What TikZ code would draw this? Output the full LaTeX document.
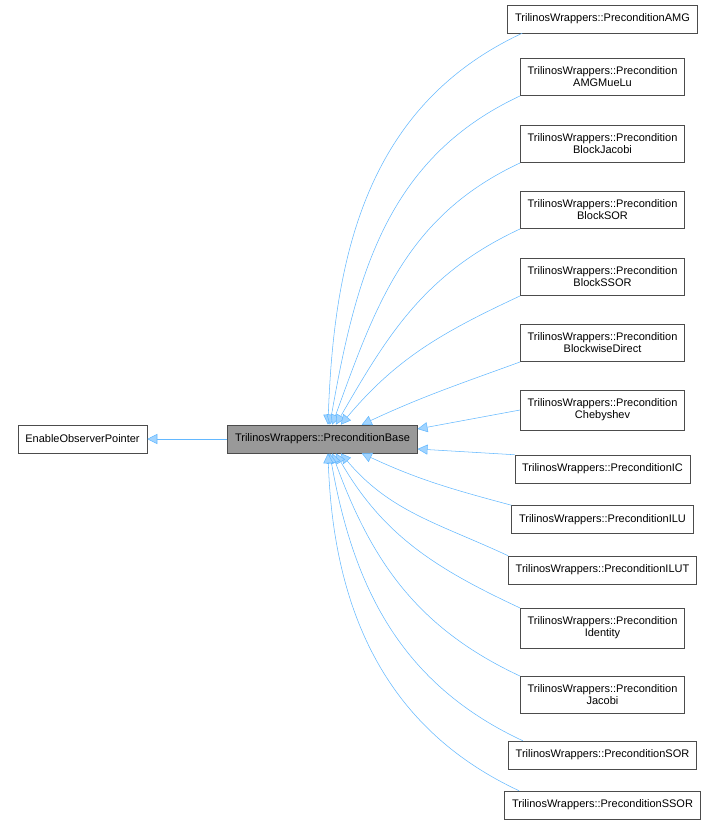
\documentclass[tikz,border=0pt]{standalone}
\usepackage{fontspec}
\setmainfont{Liberation Sans}
\usetikzlibrary{arrows.meta}
\definecolor{edgeblue}{HTML}{63B8FF}
\tikzset{
  cls/.style={draw=black!70, fill=white, inner xsep=5.5pt, inner ysep=6.5pt,
    minimum height=21pt, align=center, font=\fontsize{8.25}{9}\selectfont},
  base/.style={cls, fill=black!40},
  inh/.style={draw=edgeblue, -{Triangle[open, length=7.5pt, width=7.5pt, fill=edgeblue!60]}}
}
\begin{document}
\begin{tikzpicture}[x=0.75pt,y=-0.75pt]
\useasboundingbox (0,0) rectangle (727,824);
\node[base] (pb) at (322.5,439) {TrilinosWrappers::PreconditionBase};
\node[cls] (eop) at (82.5,439) {EnableObserverPointer};
\node[cls] (amg) at (602.5,19) {TrilinosWrappers::PreconditionAMG};
\node[cls] (mue) at (602.5,77) {TrilinosWrappers::Precondition\\AMGMueLu};
\node[cls] (bjac) at (602.5,144) {TrilinosWrappers::Precondition\\BlockJacobi};
\node[cls] (bsor) at (602.5,210) {TrilinosWrappers::Precondition\\BlockSOR};
\node[cls] (bssor) at (602.5,277) {TrilinosWrappers::Precondition\\BlockSSOR};
\node[cls] (bwd) at (602.5,343) {TrilinosWrappers::Precondition\\BlockwiseDirect};
\node[cls] (cheb) at (602.5,410) {TrilinosWrappers::Precondition\\Chebyshev};
\node[cls] (ic) at (602.5,469) {TrilinosWrappers::PreconditionIC};
\node[cls] (ilu) at (602.5,519.5) {TrilinosWrappers::PreconditionILU};
\node[cls] (ilut) at (602.5,570) {TrilinosWrappers::PreconditionILUT};
\node[cls] (ident) at (602.5,628) {TrilinosWrappers::Precondition\\Identity};
\node[cls] (jac) at (602.5,695) {TrilinosWrappers::Precondition\\Jacobi};
\node[cls] (sor) at (602.5,755) {TrilinosWrappers::PreconditionSOR};
\node[cls] (ssor) at (602.5,805) {TrilinosWrappers::PreconditionSSOR};
% inheritance edges
\draw[inh] (pb) -- (eop);
\draw[inh] ([xshift=11pt]amg.south west) to[out=205,in=88] (pb.69);
\draw[inh] (mue.south west) to[out=205,in=80] (pb.63);
\draw[inh] (bjac.south west) to[out=205,in=70] (pb.56);
\draw[inh] (bsor.south west) to[out=205,in=60] (pb.47);
\draw[inh] (bssor.south west) to[out=205,in=50] (pb.38);
\draw[inh] (bwd.south west) to[out=200,in=25] (pb.20);
\draw[inh] (cheb.west) -- (pb.6);
\draw[inh] (ic.north west) -- (pb.-6);
\draw[inh] (ilu.north west) to[out=165,in=-25] (pb.-20);
\draw[inh] (ilut.north west) to[out=155,in=-50] (pb.-38);
\draw[inh] (ident.north west) to[out=155,in=-60] (pb.-47);
\draw[inh] (jac.north west) to[out=155,in=-70] (pb.-56);
\draw[inh] ([xshift=11pt]sor.north west) to[out=155,in=-80] (pb.-63);
\draw[inh] ([xshift=11pt]ssor.north west) to[out=155,in=-88] (pb.-69);
\end{tikzpicture}
\end{document}
